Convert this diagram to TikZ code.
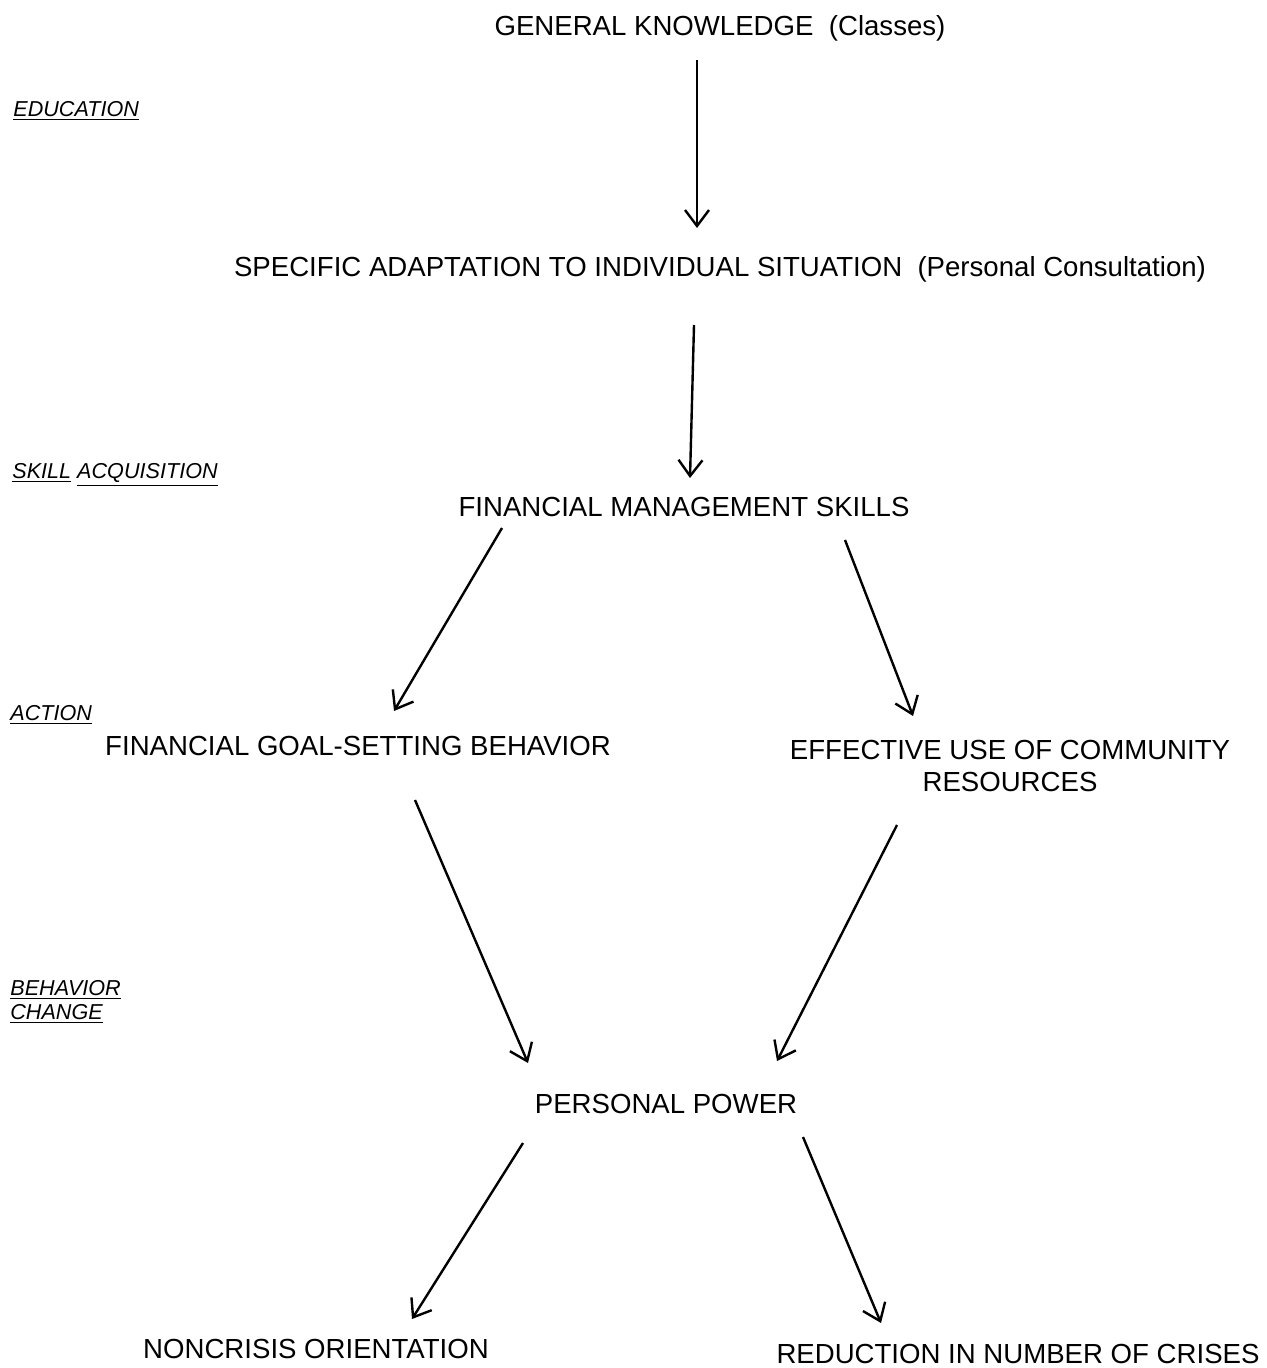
\documentclass[tikz,border=0pt]{standalone}
\usepackage{fontspec}
\setmainfont{Liberation Sans}
\usetikzlibrary{arrows.meta}
\tikzset{
  main/.style={font=\fontsize{13.8pt}{16pt}\selectfont, inner sep=0pt, align=center},
  side/.style={font=\fontsize{10.8pt}{13pt}\selectfont\itshape, inner sep=0pt, anchor=west, align=left},
  flow/.style={line width=1.2pt, -{Straight Barb[length=8pt,width=12pt,line width=1.2pt]}}
}
\begin{document}
\begin{tikzpicture}[x=0.5pt,y=-0.5pt]
\useasboundingbox (0,0) rectangle (1266,1368);
% main nodes
\node[main] (gk) at (720,28) {GENERAL KNOWLEDGE\ \ (Classes)};
\node[main] (sa) at (720,269) {SPECIFIC ADAPTATION TO INDIVIDUAL SITUATION\ \ (Personal Consultation)};
\node[main] (fms) at (684,507) {FINANCIAL MANAGEMENT SKILLS};
\node[main] (fgsb) at (358,746) {FINANCIAL GOAL-SETTING BEHAVIOR};
\node[main] (ecr) at (1010,766) {EFFECTIVE USE OF COMMUNITY\\RESOURCES};
\node[main] (pp) at (666,1104) {PERSONAL POWER};
\node[main] (no) at (316,1349) {NONCRISIS ORIENTATION};
\node[main] (rnc) at (1018,1354) {REDUCTION IN NUMBER OF CRISES};
% side labels
\node[side] (ed) at (13,111) {\underline{EDUCATION}};
\node[side] (sk) at (12,475) {\underline{SKILL} \underline{ACQUISITION}};
\node[side] (ac) at (10,715) {\underline{ACTION}};
\node[side] (bc) at (10,1002) {\underline{BEHAVIOR}\\[-1pt]\underline{CHANGE}};
% connector end points
\coordinate (a1s) at (697,60);   \coordinate (a1e) at (697,228);
\coordinate (a2s) at (694,325);  \coordinate (a2e) at (690,478);
\coordinate (a3s) at (502,528);  \coordinate (a3e) at (394,711);
\coordinate (a4s) at (845,540);  \coordinate (a4e) at (913,716);
\coordinate (a5s) at (415,800);  \coordinate (a5e) at (528,1063);
\coordinate (a6s) at (897,825);  \coordinate (a6e) at (777,1061);
\coordinate (a7s) at (523,1143); \coordinate (a7e) at (412,1319);
\coordinate (a8s) at (803,1137); \coordinate (a8e) at (881,1323);
\draw[flow] (a1s) -- (a1e);
\draw[flow] (a2s) -- (a2e);
\draw[flow] (a3s) -- (a3e);
\draw[flow] (a4s) -- (a4e);
\draw[flow] (a5s) -- (a5e);
\draw[flow] (a6s) -- (a6e);
\draw[flow] (a7s) -- (a7e);
\draw[flow] (a8s) -- (a8e);
\end{tikzpicture}
\end{document}
